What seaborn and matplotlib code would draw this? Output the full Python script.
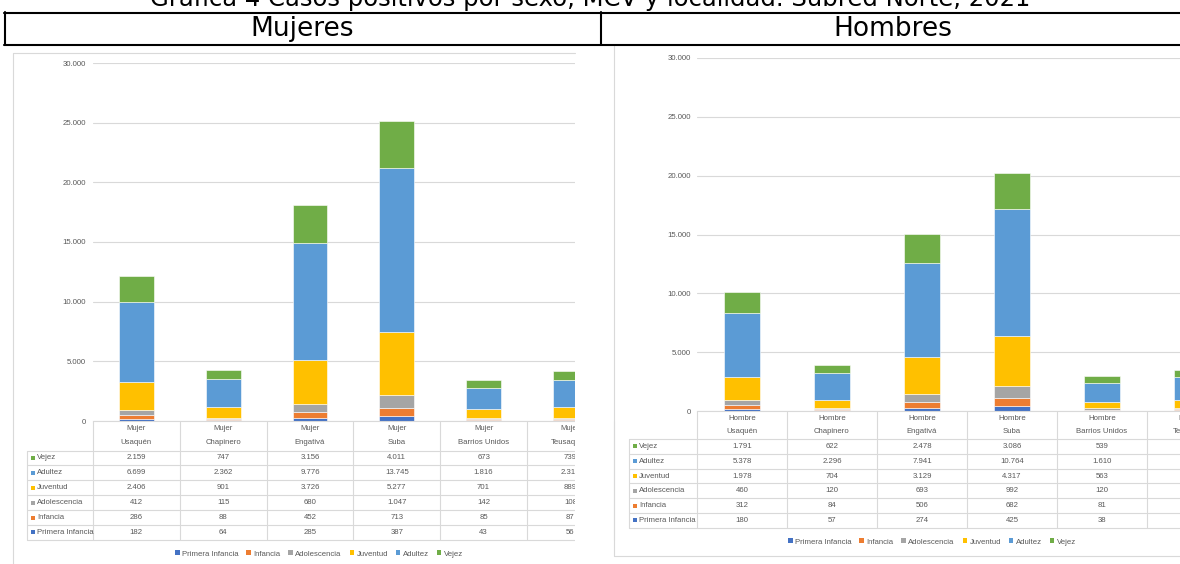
import matplotlib
matplotlib.use("Agg")
import numpy as np
import matplotlib.pyplot as plt
from matplotlib import transforms
from matplotlib.lines import Line2D
from matplotlib.patches import Rectangle, Patch
from matplotlib.ticker import FuncFormatter
import seaborn as sns

# Data
localidades = ["Usaquén", "Chapinero", "Engativá", "Suba", "Barrios Unidos", "Teusaquillo"]
grupos = ["Primera Infancia", "Infancia", "Adolescencia", "Juventud", "Adultez", "Vejez"]
colores = ["#4472C4", "#ED7D31", "#A5A5A5", "#FFC000", "#5B9BD5", "#70AD47"]

# Mujeres
m_primera_infancia = [182, 64, 285, 387, 43, 56]
m_infancia = [286, 88, 452, 713, 85, 87]
m_adolescencia = [412, 115, 680, 1047, 142, 108]
m_juventud = [2406, 901, 3726, 5277, 701, 889]
m_adultez = [6699, 2362, 9776, 13745, 1816, 2313]
m_vejez = [2159, 747, 3156, 4011, 673, 739]

# Hombres (Teusaquillo estimated from the bar, table column is cut off)
h_primera_infancia = [180, 57, 274, 425, 38, 60]
h_infancia = [312, 84, 506, 682, 81, 95]
h_adolescencia = [460, 120, 693, 992, 120, 110]
h_juventud = [1978, 704, 3129, 4317, 563, 650]
h_adultez = [5378, 2296, 7941, 10764, 1610, 1990]
h_vejez = [1791, 622, 2478, 3086, 539, 620]

mujeres = dict(zip(grupos, [m_primera_infancia, m_infancia, m_adolescencia,
                            m_juventud, m_adultez, m_vejez]))
hombres = dict(zip(grupos, [h_primera_infancia, h_infancia, h_adolescencia,
                            h_juventud, h_adultez, h_vejez]))

sns.set_style("white")
plt.rcParams["font.family"] = ["Liberation Sans", "DejaVu Sans"]

W, H = 1180, 564
fig = plt.figure(figsize=(W / 100, H / 100), dpi=100)
fig.patch.set_facecolor("white")


def fx(px):
    return px / W


def fy(py):
    return 1 - py / H


GRID = "#d9d9d9"
TXT = "#595959"
FS = 5.6


def fmt(v):
    return f"{v:,}".replace(",", ".")


def panel(valores, etiqueta, left, right, step, y_zero, y_top, pad,
          label_left, head_line, row_h, legend_x, legend_y):
    ax = fig.add_axes([fx(left), fy(y_zero), fx(right - left), (y_zero - y_top) / H])
    bottom = np.zeros(len(localidades))
    for grupo, color in zip(grupos, colores):
        sns.barplot(x=localidades, y=valores[grupo], color=color, saturation=1,
                    width=0.4, bottom=bottom, edgecolor="white", linewidth=0.4, ax=ax)
        bottom = bottom + np.array(valores[grupo])

    ax.set_xlim(-0.5, -0.5 + (right - left) / step)
    ax.set_ylim(0, 30000)
    ax.set_yticks(range(0, 30001, 5000))
    ax.yaxis.set_major_formatter(FuncFormatter(lambda v, p: fmt(int(v))))
    ax.tick_params(axis="y", length=0, pad=pad, labelsize=FS, labelcolor=TXT)
    ax.set_xticks([])
    ax.set_xlabel("")
    ax.set_ylabel("")
    ax.grid(axis="y", color=GRID, lw=0.8)
    ax.set_axisbelow(True)
    for s in ["top", "right", "left"]:
        ax.spines[s].set_visible(False)
    ax.spines["bottom"].set_color(GRID)
    ax.spines["bottom"].set_linewidth(0.8)

    # data table under the chart
    trans = transforms.blended_transform_factory(ax.transData, fig.transFigure)
    n = len(localidades)
    table_bottom = head_line + 6 * row_h
    for k in range(n + 1):
        ax.plot([k - 0.5, k - 0.5], [fy(y_zero), fy(table_bottom)], transform=trans,
                color=GRID, lw=0.8, clip_on=False)
    for r in range(7):
        yy = head_line + r * row_h
        fig.add_artist(Line2D([fx(label_left), fx(right)], [fy(yy), fy(yy)],
                              transform=fig.transFigure, color=GRID, lw=0.8))
    fig.add_artist(Line2D([fx(label_left)] * 2, [fy(head_line), fy(table_bottom)],
                          transform=fig.transFigure, color=GRID, lw=0.8))
    for i, loc in enumerate(localidades):
        ax.text(i, fy(y_zero + (head_line - y_zero) * 0.27), etiqueta, transform=trans,
                ha="center", va="center", fontsize=FS, color=TXT)
        ax.text(i, fy(y_zero + (head_line - y_zero) * 0.73), loc, transform=trans,
                ha="center", va="center", fontsize=FS, color=TXT)
    for r, grupo in enumerate(reversed(grupos)):
        yc = head_line + (r + 0.5) * row_h
        color = colores[grupos.index(grupo)]
        fig.add_artist(Rectangle((fx(label_left + 4), fy(yc + 2)), fx(4), 4 / H,
                                 transform=fig.transFigure, facecolor=color, edgecolor="none"))
        fig.text(fx(label_left + 10), fy(yc), grupo, ha="left", va="center",
                 fontsize=FS, color=TXT)
        for i in range(n):
            ax.text(i, fy(yc), fmt(valores[grupo][i]), transform=trans,
                    ha="center", va="center", fontsize=FS, color=TXT)

    handles = [Patch(facecolor=c, edgecolor="none") for c in colores]
    fig.legend(handles, grupos, loc="center", bbox_to_anchor=(fx(legend_x), fy(legend_y)),
               ncol=6, frameon=False, fontsize=FS, labelcolor=TXT, handlelength=0.6,
               handleheight=0.6, handletextpad=0.3, columnspacing=1.0)
    return ax


panel(mujeres, "Mujer", 93, 575, 86.8, 421, 63, 5.0, 27, 450.5, 14.9, 319, 554)
panel(hombres, "Hombre", 697, 1240, 90.0, 411, 58, 4.3, 629, 439, 14.8, 932, 542)

# cut the left chart like the pasted image
fig.add_artist(Rectangle((fx(575), 0), fx(612 - 575), fy(47), transform=fig.transFigure,
                         facecolor="white", edgecolor="none", zorder=50))

# chart frames
def fline(xs, ys, color=GRID, lw=0.8, z=60):
    fig.add_artist(Line2D([fx(x) for x in xs], [fy(y) for y in ys],
                          transform=fig.transFigure, color=color, lw=lw, zorder=z))


fline([12.5, 12.5], [53, 570])
fline([12.5, 575], [53, 53])
fline([613.5, 613.5], [46, 556])
fline([613.5, 1185], [556, 556])

# header table
fline([4, 1185], [12.5, 12.5], color="black", lw=1.5, z=70)
fline([4, 1185], [44.5, 44.5], color="black", lw=1.5, z=70)
fline([4.5, 4.5], [12, 45], color="black", lw=1.5, z=70)
fline([601, 601], [12, 45], color="black", lw=1.5, z=70)

fig.text(fx(590), fy(6), "Gráfica 4 Casos positivos por sexo, MCV y localidad. Subred Norte, 2021",
         ha="center", va="baseline", fontsize=17.5, family="DejaVu Sans", color="black")
fig.text(fx(302), fy(36), "Mujeres", ha="center", va="baseline", fontsize=19,
         family="DejaVu Sans", color="black")
fig.text(fx(893), fy(36), "Hombres", ha="center", va="baseline", fontsize=19,
         family="DejaVu Sans", color="black")

fig.savefig("out.png", dpi=100)
